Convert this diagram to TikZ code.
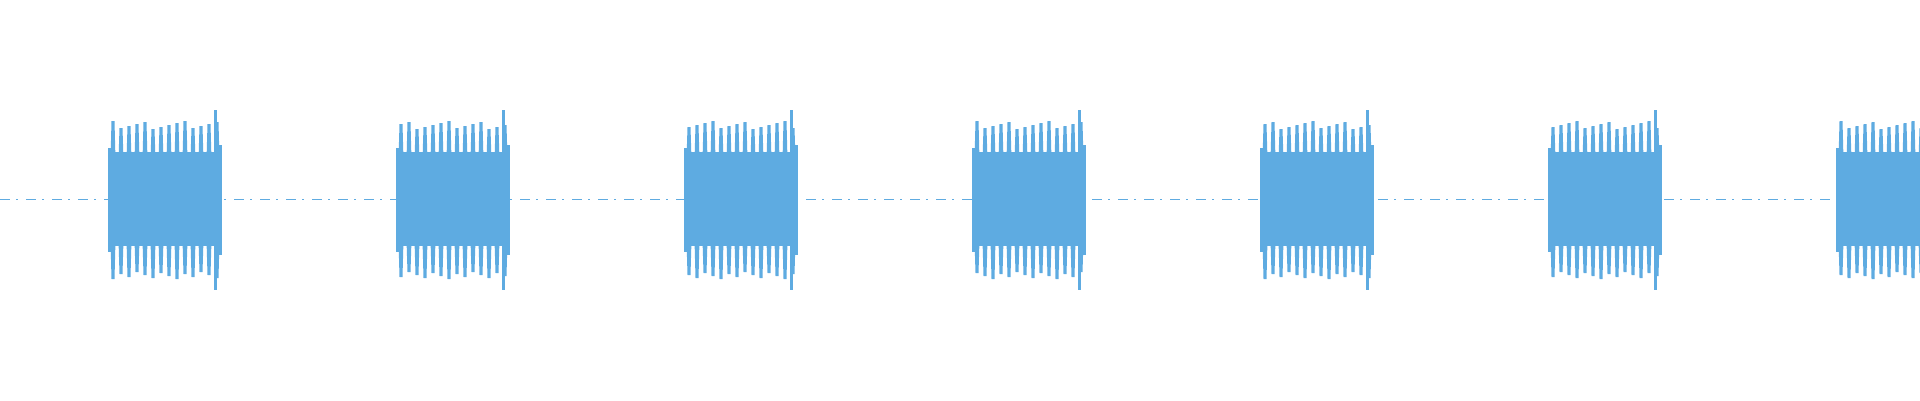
\documentclass[tikz,border=0pt]{standalone}
\definecolor{wave}{HTML}{5EABE1}
\begin{document}
\begin{tikzpicture}[x=1pt,y=-1pt,spike/.style={fill=wave},core/.style={fill=wave}]
\useasboundingbox (0,0) rectangle (1920,400);
\draw[wave,line width=0.7pt,dash pattern=on 10pt off 6pt on 2pt off 8pt] (0,199.5) -- (1920,199.5);
\foreach \b in {0,...,6}{
  \pgfmathsetmacro{\xs}{108+288*\b}
  \fill[core] (\xs,152) rectangle ++(114,94);
  \fill[core] (\xs,148) rectangle ++(3,104);
  \foreach \k in {0,...,13}{
    \pgfmathsetmacro{\sx}{\xs+2.5+8*\k}
    \pgfmathsetmacro{\top}{121+mod(7*\k+3*\b,9)}
    \pgfmathsetmacro{\bot}{279-mod(5*\k+2*\b,8)}
    \fill[spike] (\sx+1,\top) -- (\sx+4,\top) -- (\sx+5,160) -- (\sx,160) -- cycle;
    \fill[spike] (\sx+1,\bot) -- (\sx+4,\bot) -- (\sx+5,240) -- (\sx,240) -- cycle;
  }
  \fill[spike] (\xs+106,110) rectangle ++(3,90);
  \fill[spike] (\xs+106,290) rectangle ++(3,-90);
  \fill[core] (\xs+110,145) rectangle ++(4,110);
}
\end{tikzpicture}
\end{document}
